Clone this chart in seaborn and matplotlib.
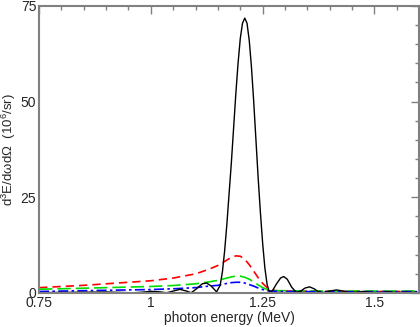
import matplotlib
matplotlib.use("Agg")
import matplotlib.pyplot as plt
import seaborn as sns
import pandas as pd
from matplotlib.ticker import MultipleLocator

# black curve (solid)
e_black = [0.75, 0.80, 0.85, 0.90, 0.93, 0.96, 0.98, 1.00, 1.02, 1.035, 1.05, 1.065,
           1.08, 1.09, 1.10, 1.115, 1.125, 1.135, 1.147, 1.155, 1.16, 1.165, 1.17,
           1.175, 1.18, 1.185, 1.19, 1.195, 1.20, 1.205, 1.21, 1.215, 1.22, 1.225,
           1.23, 1.235, 1.24, 1.245, 1.25, 1.255, 1.26, 1.265, 1.272, 1.28, 1.29,
           1.297, 1.305, 1.315, 1.325, 1.335, 1.345, 1.355, 1.365, 1.375, 1.385,
           1.40, 1.415, 1.43, 1.445, 1.46, 1.475, 1.49, 1.51, 1.53, 1.55, 1.57, 1.60]
v_black = [0.1, 0.15, 0.2, 0.25, 0.15, 0.05, 0.2, 0.45, 0.3, 0.05, 0.5, 0.95,
           0.5, 0.05, 0.9, 2.4, 2.6, 1.8, 0.3, 2.0, 5.5, 11, 18,
           26, 34, 43, 52, 60, 66.5, 70.5, 71.8, 70.5, 66, 59,
           50, 40, 30, 21, 13, 6.5, 2.2, 0.3, 0.6, 2.2, 3.9,
           4.3, 3.6, 1.5, 0.2, 0.5, 1.3, 1.6, 1.1, 0.3, 0.1,
           0.5, 0.8, 0.5, 0.1, 0.2, 0.4, 0.2, 0.1, 0.3, 0.1, 0.2, 0.1]

# coloured curves share one energy grid
e_col = [0.75, 0.80, 0.85, 0.90, 0.95, 1.00, 1.05, 1.10, 1.13, 1.15, 1.17, 1.18,
         1.19, 1.20, 1.21, 1.22, 1.23, 1.24, 1.25, 1.26, 1.27, 1.28, 1.30, 1.33,
         1.36, 1.40, 1.45, 1.50, 1.55, 1.60]
v_red = [1.4, 1.7, 2.0, 2.4, 2.8, 3.2, 3.9, 5.0, 6.2, 7.2, 8.6, 9.3,
         9.7, 9.6, 8.8, 7.4, 5.7, 4.0, 2.5, 1.4, 0.8, 0.6, 0.5, 0.5,
         0.45, 0.45, 0.4, 0.4, 0.4, 0.4]
v_green = [1.0, 1.1, 1.25, 1.4, 1.55, 1.7, 1.95, 2.4, 2.9, 3.3, 3.9, 4.2,
           4.4, 4.4, 4.1, 3.6, 2.9, 2.1, 1.4, 0.9, 0.7, 0.6, 0.6, 0.55,
           0.5, 0.5, 0.5, 0.5, 0.5, 0.5]
v_blue = [0.4, 0.5, 0.6, 0.7, 0.8, 0.9, 1.1, 1.4, 1.8, 2.0, 2.5, 2.7,
          2.8, 2.8, 2.6, 2.2, 1.8, 1.3, 0.9, 0.6, 0.5, 0.45, 0.4, 0.4,
          0.35, 0.35, 0.35, 0.35, 0.35, 0.35]

sns.set_style("white")
plt.rcParams["font.family"] = ["Liberation Sans", "DejaVu Sans"]
plt.rcParams["mathtext.fontset"] = "custom"
plt.rcParams["mathtext.rm"] = "Liberation Sans"
plt.rcParams["mathtext.it"] = "Liberation Sans"

fig = plt.figure(figsize=(4.2, 3.27), dpi=100)
ax = fig.add_axes([0.093, 0.104, 0.905, 0.878])

df = pd.DataFrame({"e": e_col, "red": v_red, "green": v_green, "blue": v_blue})
sns.lineplot(data=df, x="e", y="red", color="red", lw=1.2, ax=ax)
sns.lineplot(data=df, x="e", y="green", color="#00dd00", lw=1.2, ax=ax)
sns.lineplot(data=df, x="e", y="blue", color="blue", lw=1.2, ax=ax)
sns.lineplot(x=e_black, y=v_black, color="black", lw=1.0, ax=ax)
ax.lines[0].set_dashes([5, 3])
ax.lines[1].set_dashes([8, 3])
ax.lines[2].set_dashes([6, 2, 1.5, 2])

ax.set_xlim(0.75, 1.6)
ax.set_ylim(0, 75)
ax.xaxis.set_minor_locator(MultipleLocator(0.05))
ax.yaxis.set_minor_locator(MultipleLocator(5))
ax.set_xticks([0.75, 1.0, 1.25, 1.5])
ax.set_xticklabels(["0.75", "1", "1.25", "1.5"])
ax.set_yticks([0, 25, 50, 75])
ax.set_yticklabels(["0", "25", "50", "75"])

for s in ax.spines.values():
    s.set_color("#808080")
    s.set_linewidth(1.5)
ax.tick_params(which="both", direction="in", top=True, right=True,
               color="#808080", labelsize=10, pad=2)
ax.tick_params(which="major", length=6, width=1)
ax.tick_params(which="minor", length=3, width=1)

ax.set_xlabel("photon energy (MeV)", fontsize=10, labelpad=1)
ax.set_ylabel(r"d$^3$E/d$\omega$d$\Omega$  (10$^6$/sr)", fontsize=9.5)
ax.yaxis.set_label_coords(-0.055, 0.5)

fig.savefig("out.png", dpi=100)
